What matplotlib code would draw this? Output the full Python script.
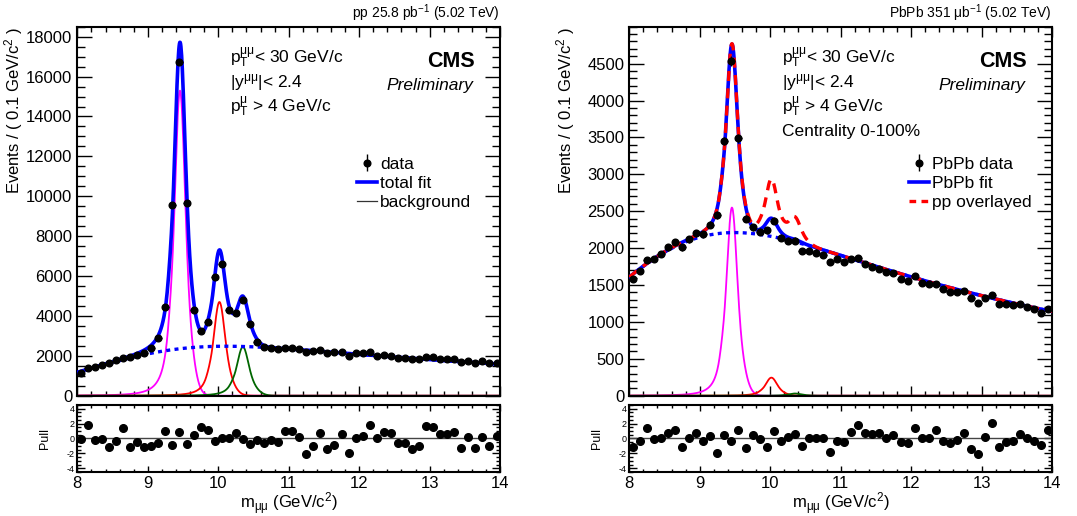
import math

import numpy as np
import matplotlib
matplotlib.use("Agg")
from matplotlib import pyplot as plt
from matplotlib.ticker import MultipleLocator, FixedLocator
from matplotlib.lines import Line2D

plt.rcParams['font.family'] = ['Liberation Sans', 'DejaVu Sans']
plt.rcParams['mathtext.fontset'] = 'custom'
plt.rcParams['mathtext.rm'] = 'Liberation Sans'
plt.rcParams['mathtext.it'] = 'Liberation Sans:italic'
plt.rcParams['mathtext.bf'] = 'Liberation Sans:bold'
plt.rcParams['axes.unicode_minus'] = False

# ---- data ----
bin_centres = np.round(np.arange(8.05, 14.0, 0.1), 2)

pp_counts = [1150, 1370, 1450, 1540, 1650, 1790, 1870, 1920, 2040, 2160,
             2370, 2870, 4460, 9560, 16740, 9640, 4290, 3220, 3710, 5930,
             6600, 4310, 4160, 4800, 3590, 2710, 2460, 2410, 2340, 2410,
             2370, 2320, 2170, 2240, 2290, 2120, 2170, 2210, 2010, 2120,
             2120, 2170, 2010, 2040, 1990, 1910, 1910, 1840, 1840, 1960,
             1920, 1840, 1840, 1840, 1670, 1740, 1650, 1740, 1650, 1650]

pp_pulls = [-0.13, 1.87, -0.2, -0.13, -1.2, -0.35, 1.43, -1.13, -0.52, -1.17,
            -1.0, -0.65, 1.04, -0.83, 0.83, -0.74, 0.52, 1.48, 1.17, -0.3,
            0.0, 0.0, 0.78, -0.13, -0.7, -0.2, -0.57, -0.26, -0.52, 1.0,
            1.0, 0.22, -2.13, -1.0, 0.74, -1.39, -0.83, 0.65, -2.0, 0.09,
            0.39, 1.83, 0.0, 0.87, 0.78, -0.65, -0.65, -1.43, -0.96, 1.74,
            1.61, 0.61, 0.61, 0.87, -1.3, 0.17, -1.22, 0.17, -0.96, 0.3]

pbpb_counts = [1580, 1690, 1840, 1850, 1920, 2010, 2080, 2010, 2120, 2200,
               2190, 2320, 2450, 3450, 4530, 3490, 2400, 2280, 2220, 2240,
               2370, 2140, 2100, 2100, 1960, 1960, 1940, 1910, 1810, 1850,
               1810, 1850, 1860, 1780, 1750, 1720, 1670, 1660, 1580, 1550,
               1620, 1530, 1510, 1520, 1450, 1410, 1410, 1420, 1320, 1260,
               1330, 1370, 1240, 1240, 1230, 1240, 1200, 1180, 1120, 1170]

pbpb_pulls = [-1.17, -0.3, 1.35, -0.13, 0.0, 0.74, 1.09, -1.13, 0.0, 0.78,
              -0.35, 0.3, -1.91, 0.52, -0.3, 1.09, -1.22, 0.48, -0.04, -1.17,
              0.96, -0.35, 0.17, 0.65, -1.0, 0.0, 0.0, 0.09, -1.83, -0.3,
              -0.43, 0.87, 1.83, 0.7, 0.65, 0.74, 0.13, 0.48, -0.52, -0.65,
              1.43, 0.0, 0.09, 1.09, -0.3, -0.57, -0.26, 0.7, -1.35, -2.09,
              0.17, 2.09, -1.13, -0.43, -0.35, 0.65, 0.0, -0.39, -0.87, 1.09]

# fit parameters
upsilon_mass = [9.457, 10.017, 10.350]
pp_peak_height = [15300, 4700, 2450]
pbpb_peak_height = [2550, 245, 30]
overlay_peak_height = [2550, 760, 330]
pp_bkg = [10500, 7.4, 8.5, 1.57]      # norm, decay, erf mean, erf width
pbpb_bkg = [12760, 5.8, 8.0, 1.72]
core_sigma, wide_ratio, core_frac, cb_alpha, cb_n = 0.06, 2.0, 0.5, 1.5, 3.0

erf = np.vectorize(math.erf)


def crystal_ball(t):
    a = (cb_n / cb_alpha) ** cb_n * np.exp(-cb_alpha ** 2 / 2)
    b = cb_n / cb_alpha - cb_alpha
    out = np.exp(-t ** 2 / 2)
    tail = t < -cb_alpha
    out[tail] = a * (b - t[tail]) ** (-cb_n)
    return out


def peak(x, mean, height):
    s1 = core_sigma * mean / upsilon_mass[0]
    return height * (core_frac * crystal_ball((x - mean) / s1)
                     + (1 - core_frac) * crystal_ball((x - mean) / (wide_ratio * s1)))


def background(x, p):
    return p[0] * np.exp(-x / p[1]) * 0.5 * (1 + erf((x - p[2]) / p[3]))


xs = np.linspace(8, 14, 1201)

fig = plt.figure(figsize=(10.77, 5.16), dpi=100)

panels = [
    dict(left=0.0718, counts=pp_counts, pulls=pp_pulls, bkg=pp_bkg,
         heights=pp_peak_height, ymax=18500, major=2000, minor=500, top=18000,
         lumi='pp 25.8 pb$^{-1}$ (5.02 TeV)', centrality=False,
         labels=['data', 'total fit', 'background']),
    dict(left=0.5843, counts=pbpb_counts, pulls=pbpb_pulls, bkg=pbpb_bkg,
         heights=pbpb_peak_height, ymax=5000, major=500, minor=100, top=4500,
         lumi='PbPb 351 μb$^{-1}$ (5.02 TeV)', centrality=True,
         labels=['PbPb data', 'PbPb fit', 'pp overlayed']),
]

for pan in panels:
    ax = fig.add_axes([pan['left'], 0.2331, 0.3925, 0.7151])
    axp = fig.add_axes([pan['left'], 0.0853, 0.3925, 0.1298])

    bkg = background(xs, pan['bkg'])
    comps = [peak(xs, m, h) for m, h in zip(upsilon_mass, pan['heights'])]
    total = bkg + sum(comps)

    for c, col in zip(comps, ['#ff00ff', '#ff0000', '#006600']):
        ax.plot(xs, c, color=col, lw=1.3, zorder=2)
    ax.plot(xs, bkg, color='#0000ff', lw=2.4, ls=(0, (1.2, 1.3)), zorder=3)
    ax.plot(xs, total, color='#0000ff', lw=2.6, zorder=4)
    if pan['centrality']:
        overlay = bkg + sum(peak(xs, m, h) for m, h in zip(upsilon_mass, overlay_peak_height))
        ax.plot(xs, overlay, color='#ff0000', lw=2.4, ls=(0, (3, 2.2)), zorder=5)

    counts = np.array(pan['counts'], dtype=float)
    ax.errorbar(bin_centres, counts, yerr=np.sqrt(counts), xerr=0.05, fmt='o',
                color='black', ms=4.8, elinewidth=1.0, capsize=0, zorder=6)

    ax.set_xlim(8, 14)
    ax.set_ylim(0, pan['ymax'])
    ax.yaxis.set_major_locator(FixedLocator(np.arange(0, pan['top'] + 1, pan['major'])))
    ax.yaxis.set_minor_locator(MultipleLocator(pan['minor']))
    ax.xaxis.set_major_locator(MultipleLocator(1))
    ax.xaxis.set_minor_locator(MultipleLocator(0.2))
    ax.tick_params(axis='both', which='both', direction='in', top=True, right=True,
                   labelsize=12, width=1.0)
    ax.tick_params(axis='y', which='major', length=11)
    ax.tick_params(axis='y', which='minor', length=5.5)
    ax.tick_params(axis='x', which='major', length=7)
    ax.tick_params(axis='x', which='minor', length=3.5)
    ax.tick_params(axis='x', labelbottom=False)
    for s in ax.spines.values():
        s.set_linewidth(1.5)
    ax.set_ylabel('Events / ( 0.1 GeV/c$^{2}$ )', fontsize=12, loc='top')
    ax.yaxis.set_label_coords(-0.124, 1.0)

    ax.text(1.0, 1.024, pan['lumi'], transform=ax.transAxes, ha='right',
            va='baseline', fontsize=10)
    cuts = [r'p$_{\rm T}^{\rm μμ}$< 30 GeV/c', r'|y$^{\rm μμ}$|< 2.4',
            r'p$_{\rm T}^{\rm μ}$ > 4 GeV/c']
    if pan['centrality']:
        cuts.append('Centrality 0-100%')
    for i, t in enumerate(cuts):
        ax.text(0.362, 0.901 - i * 0.066, t, transform=ax.transAxes, ha='left',
                va='baseline', fontsize=12.5)
    ax.text(0.941, 0.892, 'CMS', transform=ax.transAxes, ha='right', va='baseline',
            fontsize=15.5, fontweight='bold')
    ax.text(0.938, 0.828, 'Preliminary', transform=ax.transAxes, ha='right',
            va='baseline', fontsize=12.5, style='italic')

    if pan['centrality']:
        h_fit = Line2D([], [], color='#0000ff', lw=2.6)
        h_bkg = Line2D([], [], color='#ff0000', lw=2.4, ls=(0, (2, 1.6)))
    else:
        h_fit = Line2D([], [], color='#0000ff', lw=2.6)
        h_bkg = Line2D([], [], color='#333333', lw=0.9)
    h_data = ax.errorbar([], [], yerr=[], fmt='o', color='black', ms=4.8,
                         elinewidth=1.0, capsize=0)
    ax.legend([h_data, h_fit, h_bkg], pan['labels'], loc='upper left',
              bbox_to_anchor=(0.661, 0.648), frameon=False, fontsize=12.5,
              handlelength=1.15, handletextpad=0.2, labelspacing=0.24,
              borderaxespad=0, borderpad=0)

    axp.axhline(0, color='#444444', lw=1.0)
    axp.plot(bin_centres, pan['pulls'], 'o', color='black', ms=5.5)
    axp.set_xlim(8, 14)
    axp.set_ylim(-4.5, 4.5)
    axp.yaxis.set_major_locator(FixedLocator([-4, -2, 0, 2, 4]))
    axp.yaxis.set_minor_locator(MultipleLocator(0.5))
    axp.xaxis.set_major_locator(MultipleLocator(1))
    axp.xaxis.set_minor_locator(MultipleLocator(0.2))
    axp.tick_params(axis='both', which='both', direction='in', top=True, right=True,
                    width=1.0)
    axp.tick_params(axis='y', which='major', length=6, labelsize=6.5, pad=2)
    axp.tick_params(axis='y', which='minor', length=3)
    axp.tick_params(axis='x', which='major', length=4, labelsize=12, pad=3)
    axp.tick_params(axis='x', which='minor', length=2)
    for s in axp.spines.values():
        s.set_linewidth(1.5)
    axp.set_ylabel('Pull', fontsize=9)
    axp.yaxis.set_label_coords(-0.062, 0.5)
    axp.set_xlabel(r'm$_{\rm μμ}$ (GeV/c$^{2}$)', fontsize=12)
    axp.xaxis.set_label_coords(0.5, -0.275)

fig.savefig('out.png', dpi=100)
